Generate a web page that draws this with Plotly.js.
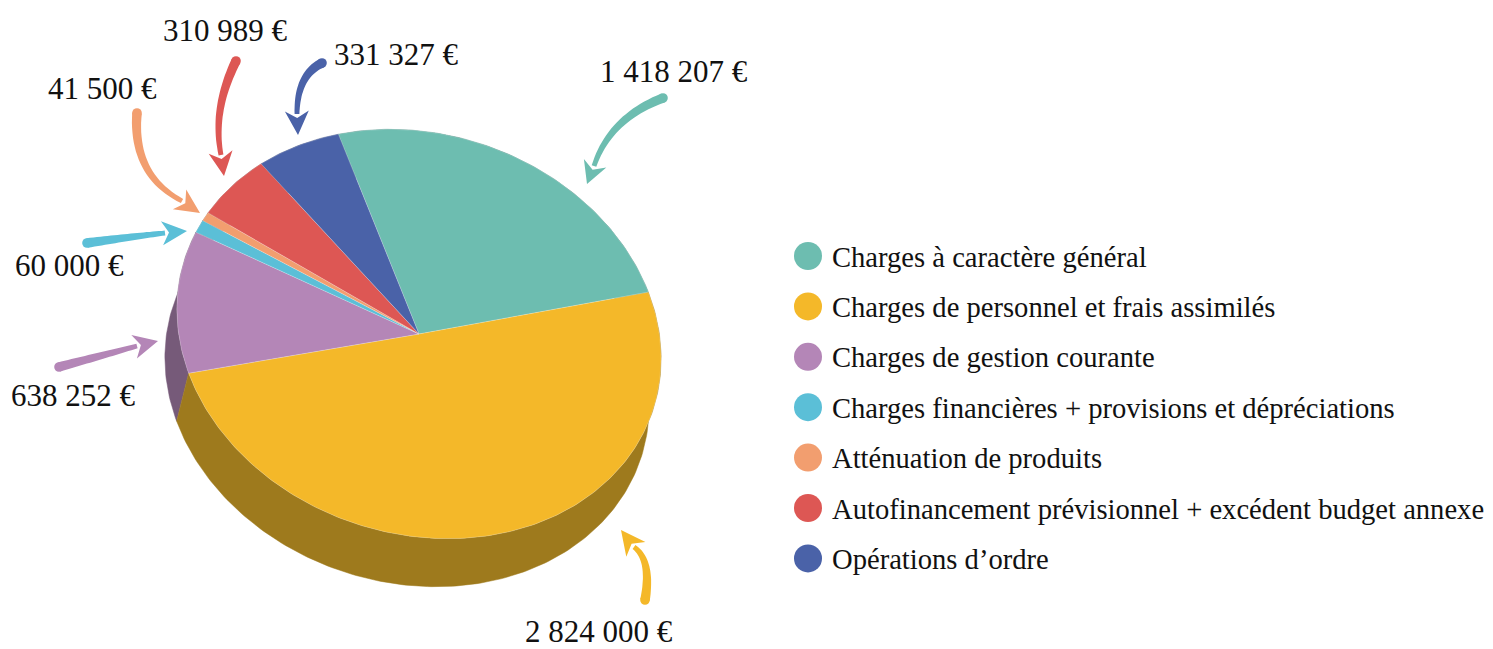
<!DOCTYPE html>
<html>
<head>
<meta charset="utf-8">
<script src="https://cdn.plot.ly/plotly-3.0.1.min.js"></script>
<style>html,body{margin:0;padding:0;background:#fff}#chart{width:1493px;height:649px}</style>
</head>
<body>
<div id="chart"></div>
<script>
// ---- data ----
const categories = [
  "Charges à caractère général",
  "Charges de personnel et frais assimilés",
  "Charges de gestion courante",
  "Charges financières + provisions et dépréciations",
  "Atténuation de produits",
  "Autofinancement prévisionnel + excédent budget annexe",
  "Opérations d’ordre"
];
const values = [1418207, 2824000, 638252, 60000, 41500, 310989, 331327];
const faceColors = ["#6dbdb0", "#f4b829", "#b486b7", "#5bbfd7", "#f29e6f", "#dd5754", "#4a62a8"];
const sideColors = ["#4c8a80", "#9e7a1d", "#765a79", "#3f8a9c", "#a86e4c", "#9b3c3a", "#33457a"];

// ---- geometry of the tilted pie (screen pixels) ----
const CX = 419, CY = 334;          // centre of the top face
const A = 246, B = 200;            // semi axes
const ROT = 17.7 * Math.PI / 180;  // tilt of the ellipse
const DX = -12, DY = 48;           // extrusion (thickness)
const START = -124 * Math.PI / 180;

function P(t) {
  const u = Math.cos(t), v = Math.sin(t);
  return [CX + A * u * Math.cos(ROT) - B * v * Math.sin(ROT),
          CY + A * u * Math.sin(ROT) + B * v * Math.cos(ROT)];
}

const total = values.reduce((s, v) => s + v, 0);
const slices = [];
let acc = START;
values.forEach((v, i) => {
  const span = 2 * Math.PI * v / total;
  slices.push({ i, t1: acc, t2: acc + span });
  acc += span;
});

function arc(t1, t2) {
  const n = Math.max(4, Math.ceil((t2 - t1) * 180 / Math.PI));
  const pts = [];
  for (let k = 0; k <= n; k++) pts.push(P(t1 + (t2 - t1) * k / n));
  return pts;
}

const traces = [];
// side walls first
const sides = slices.map(s => {
  const top = arc(s.t1, s.t2);
  const bottom = top.map(p => [p[0] + DX, p[1] + DY]).reverse();
  const pts = top.concat(bottom);
  const my = pts.reduce((m, p) => m + p[1], 0) / pts.length;
  return { s, pts, my };
}).sort((a, b) => a.my - b.my);
sides.forEach(o => {
  const pts = o.pts.concat([o.pts[0]]);
  traces.push({
    type: "scatter", mode: "lines", fill: "toself",
    x: pts.map(p => p[0]), y: pts.map(p => p[1]),
    fillcolor: sideColors[o.s.i],
    line: { color: sideColors[o.s.i], width: 0.5 },
    hoverinfo: "skip", showlegend: false
  });
});
// top faces
slices.forEach(s => {
  const pts = [[CX, CY]].concat(arc(s.t1, s.t2)).concat([[CX, CY]]);
  traces.push({
    type: "scatter", mode: "lines", fill: "toself",
    x: pts.map(p => p[0]), y: pts.map(p => p[1]),
    fillcolor: faceColors[s.i],
    line: { color: "rgba(255,255,255,0.35)", width: 0.6 },
    name: categories[s.i], text: categories[s.i], hoverinfo: "text",
    showlegend: false
  });
});

// custom legend (big round markers)
const LEG_X = 808, LEG_Y0 = 256, LEG_STEP = 50.4, LEG_TEXT_X = 830;
traces.push({
  type: "scatter", mode: "markers",
  x: categories.map(() => LEG_X),
  y: categories.map((c, i) => LEG_Y0 + i * LEG_STEP),
  marker: { size: 28, color: faceColors },
  cliponaxis: false, hoverinfo: "skip", showlegend: false
});

// ---- value labels & curved arrows (decoration) ----
function fmt(v) { return String(v).replace(/\B(?=(\d{3})+(?!\d))/g, " ") + " €"; }
const labelPos = [[674, 71], [599, 631], [73, 395], [69, 265], [102, 88], [225, 30], [396, 54]];
const arrowGeom = [
  { p0: [663, 98], c: [610, 118], p2: [594, 166], tip: [587, 184] },
  { p0: [645, 600], c: [652, 560], p2: [634, 547], tip: [621, 530] },
  { p0: [59, 367], c: [100, 356], p2: [137, 346], tip: [158, 341] },
  { p0: [87, 243], c: [130, 237], p2: [165, 233], tip: [187, 231] },
  { p0: [137, 113], c: [132, 175], p2: [182, 201], tip: [200, 213] },
  { p0: [236, 61], c: [212, 110], p2: [221, 155], tip: [224, 176] },
  { p0: [322, 63], c: [297, 75], p2: [297, 114], tip: [298, 135] }
];

function qb(p0, c, p2, t) {
  const m = 1 - t;
  return [m * m * p0[0] + 2 * m * t * c[0] + t * t * p2[0],
          m * m * p0[1] + 2 * m * t * c[1] + t * t * p2[1]];
}
function arrowShapes(g, color) {
  const N = 24, left = [], right = [];
  for (let k = 0; k <= N; k++) {
    const t = k / N;
    const p = qb(g.p0, g.c, g.p2, t);
    const q = qb(g.p0, g.c, g.p2, Math.min(1, t + 0.01));
    const r = qb(g.p0, g.c, g.p2, Math.max(0, t - 0.01));
    let dx = q[0] - r[0], dy = q[1] - r[1];
    const L = Math.hypot(dx, dy) || 1; dx /= L; dy /= L;
    const w = 4.8 - 2.4 * t;
    left.push([p[0] - dy * w, p[1] + dx * w]);
    right.push([p[0] + dy * w, p[1] - dx * w]);
  }
  const poly = left.concat(right.reverse());
  const shaft = "M" + poly.map(p => p[0].toFixed(1) + "," + p[1].toFixed(1)).join(" L") + " Z";
  let hx = g.tip[0] - g.p2[0], hy = g.tip[1] - g.p2[1];
  const hl = Math.hypot(hx, hy); hx /= hl; hy /= hl;
  const bx = g.p2[0] - hx * 3, by = g.p2[1] - hy * 3;
  const b1 = [bx - hy * 12, by + hx * 12], b2 = [bx + hy * 12, by - hx * 12];
  const notch = [g.p2[0] + hx * 4, g.p2[1] + hy * 4];
  const head = `M${g.tip[0]},${g.tip[1]} L${b1[0].toFixed(1)},${b1[1].toFixed(1)} L${notch[0].toFixed(1)},${notch[1].toFixed(1)} L${b2[0].toFixed(1)},${b2[1].toFixed(1)} Z`;
  const base = { type: "path", xref: "x", yref: "y", fillcolor: color, line: { width: 0 }, layer: "above" };
  const cap = { type: "circle", xref: "x", yref: "y", fillcolor: color, line: { width: 0 },
    x0: g.p0[0] - 4.8, x1: g.p0[0] + 4.8, y0: g.p0[1] - 4.8, y1: g.p0[1] + 4.8 };
  return [Object.assign({ path: shaft }, base), Object.assign({ path: head }, base), cap];
}

const shapes = [];
arrowGeom.forEach((g, i) => shapes.push(...arrowShapes(g, faceColors[i])));

const serif = "Liberation Serif, Times New Roman, serif";
const annotations = values.map((v, i) => ({
  x: labelPos[i][0], y: labelPos[i][1], xref: "x", yref: "y",
  text: fmt(v), showarrow: false, xanchor: "center", yanchor: "middle",
  font: { family: serif, size: 31, color: "#111" }
})).concat(categories.map((c, i) => ({
  x: LEG_TEXT_X, y: LEG_Y0 + i * LEG_STEP + 1, xref: "x", yref: "y",
  text: c, showarrow: false, xanchor: "left", yanchor: "middle",
  font: { family: serif, size: 28.6, color: "#111" }
})));

const layout = {
  width: 1493, height: 649,
  margin: { l: 0, r: 0, t: 0, b: 0 },
  paper_bgcolor: "#ffffff", plot_bgcolor: "#ffffff",
  xaxis: { range: [0, 1493], visible: false, fixedrange: true },
  yaxis: { range: [649, 0], visible: false, fixedrange: true },
  showlegend: false,
  shapes, annotations
};

Plotly.newPlot("chart", traces, layout, { displayModeBar: false, staticPlot: true });
</script>
</body>
</html>
